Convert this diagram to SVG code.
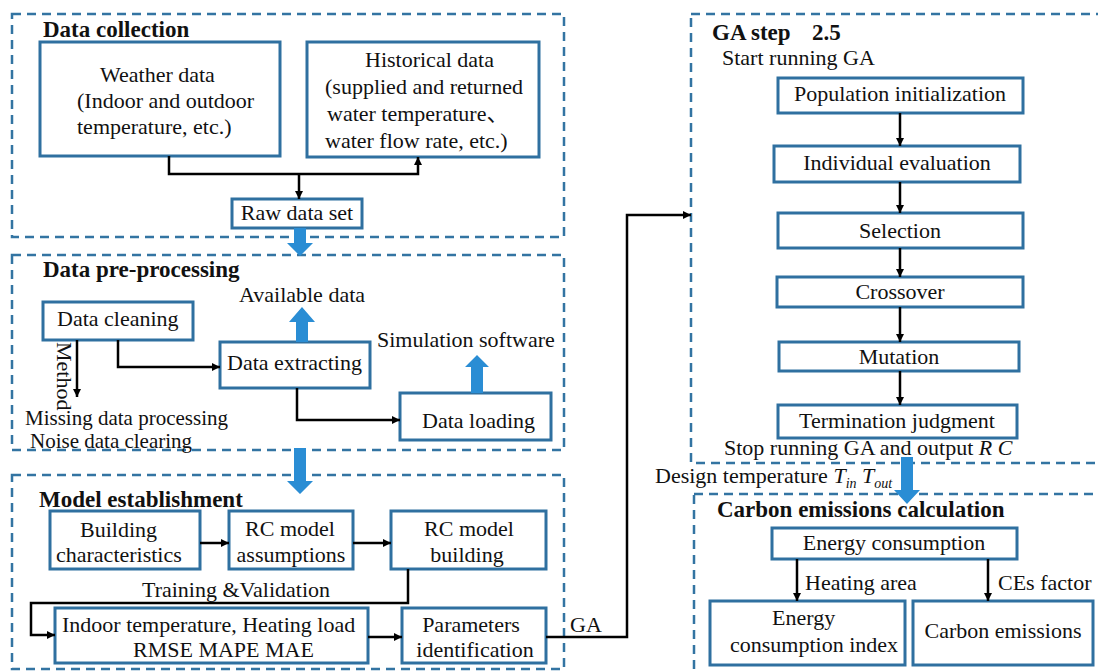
<svg xmlns="http://www.w3.org/2000/svg" width="1098" height="671" viewBox="0 0 1098 671">
  <style>
    .zone { fill: none; stroke: #3374a2; stroke-width: 2.5; stroke-dasharray: 9 6; }
    .box { fill: #fff; stroke: #2f70a0; stroke-width: 3; }
    .t { font-family: 'Liberation Serif', 'Times New Roman', Times, serif; font-size: 22px; fill: #111; }
    .cjk { font-family: 'Liberation Serif', 'Noto Sans CJK SC', serif; }
    .h { font-weight: bold; font-size: 23px; }
    .s { font-size: 21px; }
    .c { text-anchor: middle; }
    .i { font-style: italic; }
    .wire { fill: none; stroke: #000; stroke-width: 2.5; marker-end: url(#ah); }
    .flow { fill: #2a8dd4; }
  </style>
  <defs>
    <marker id="ah" viewBox="0 0 10 10" markerUnits="userSpaceOnUse" markerWidth="9" markerHeight="8" refX="10" refY="5" orient="auto">
      <path d="M0,0 L10,5 L0,10 z" fill="#000"/>
    </marker>
  </defs>
  <rect width="1098" height="671" fill="#fff"/>

  <!-- stage frames -->
  <g id="frames">
    <rect class="zone" x="12" y="14" width="552" height="223"/>
    <rect class="zone" x="12" y="255" width="552" height="195"/>
    <rect class="zone" x="12" y="475" width="552" height="194"/>
    <rect class="zone" x="691" y="14" width="420" height="449"/>
    <rect class="zone" x="694" y="494" width="420" height="200"/>
  </g>

  <!-- stage titles -->
  <g id="titles" class="t h">
    <text x="43" y="37">Data collection</text>
    <text x="43" y="277">Data pre-processing</text>
    <text x="39" y="507">Model establishment</text>
    <text x="712" y="40">GA step<tspan x="812">2.5</tspan></text>
    <text x="717" y="517">Carbon emissions calculation</text>
  </g>

  <!-- Data collection -->
  <g id="weather">
    <rect class="box" x="40" y="42" width="240" height="114"/>
    <text class="t" x="100" y="82">Weather data</text>
    <text class="t" x="77" y="108">(Indoor and outdoor</text>
    <text class="t" x="77" y="134">temperature, etc.)</text>
  </g>
  <g id="historical">
    <rect class="box" x="307" y="42" width="232" height="115"/>
    <text class="t" x="365" y="67">Historical data</text>
    <text class="t" x="325" y="94">(supplied and returned</text>
    <text class="t" x="327" y="121">water temperature<tspan class="cjk">、</tspan></text>
    <text class="t" x="325" y="148">water flow rate, etc.)</text>
  </g>
  <g id="raw">
    <rect class="box" x="232" y="199" width="130" height="29"/>
    <text class="t c" x="297" y="220">Raw data set</text>
  </g>

  <!-- Data pre-processing -->
  <g id="cleaning">
    <rect class="box" x="43" y="302" width="150" height="38"/>
    <text class="t" x="57" y="326">Data cleaning</text>
  </g>
  <g id="extracting">
    <rect class="box" x="220" y="342" width="150" height="46"/>
    <text class="t" x="227" y="370">Data extracting</text>
  </g>
  <g id="loading">
    <rect class="box" x="400" y="393" width="151" height="47"/>
    <text class="t" x="422" y="428">Data loading</text>
  </g>
  <g id="preprocess-labels" class="t">
    <text x="239" y="302">Available data</text>
    <text x="377" y="347">Simulation software</text>
    <text transform="translate(57,342) rotate(90)">Method</text>
    <text class="s" x="25" y="424.5">Missing data processing</text>
    <text class="s" x="30" y="448">Noise data clearing</text>
  </g>

  <!-- Model establishment -->
  <g id="building-char">
    <rect class="box" x="50" y="511" width="150" height="58"/>
    <text class="t" x="80" y="537">Building</text>
    <text class="t" x="56" y="562">characteristics</text>
  </g>
  <g id="rc-assumptions">
    <rect class="box" x="229" y="511" width="124" height="58"/>
    <text class="t c" x="290" y="536">RC model</text>
    <text class="t c" x="291" y="562">assumptions</text>
  </g>
  <g id="rc-building">
    <rect class="box" x="391" y="511" width="155" height="58"/>
    <text class="t c" x="469" y="536">RC model</text>
    <text class="t c" x="467" y="562">building</text>
  </g>
  <g id="indicators">
    <rect class="box" x="55" y="608" width="313" height="55"/>
    <text class="t" x="62" y="632">Indoor temperature, Heating load</text>
    <text class="t" x="133" y="657">RMSE MAPE MAE</text>
  </g>
  <g id="parameters">
    <rect class="box" x="402" y="608" width="144" height="55"/>
    <text class="t c" x="471" y="632">Parameters</text>
    <text class="t c" x="475" y="657">identification</text>
  </g>
  <g id="model-labels" class="t">
    <text x="142" y="597">Training &amp;Validation</text>
    <text x="570" y="632">GA</text>
  </g>

  <!-- GA steps -->
  <g id="ga-labels" class="t">
    <text x="722" y="65">Start running GA</text>
    <text x="724" y="455">Stop running GA and output <tspan class="i">R</tspan> <tspan class="i">C</tspan></text>
    <text x="655" y="483">Design temperature <tspan class="i">T</tspan><tspan class="i" font-size="14" dy="5">in</tspan><tspan class="i" dy="-5"> T</tspan><tspan class="i" font-size="14" dy="5">out</tspan></text>
  </g>
  <g id="population">
    <rect class="box" x="778" y="78" width="245" height="35"/>
    <text class="t c" x="900" y="101">Population initialization</text>
  </g>
  <g id="evaluation">
    <rect class="box" x="774" y="146" width="246" height="36"/>
    <text class="t c" x="897" y="170">Individual evaluation</text>
  </g>
  <g id="selection">
    <rect class="box" x="778" y="213" width="245" height="35"/>
    <text class="t c" x="900" y="238">Selection</text>
  </g>
  <g id="crossover">
    <rect class="box" x="777" y="277" width="246" height="30"/>
    <text class="t c" x="900" y="299">Crossover</text>
  </g>
  <g id="mutation">
    <rect class="box" x="779" y="342" width="240" height="29"/>
    <text class="t c" x="899" y="364">Mutation</text>
  </g>
  <g id="termination">
    <rect class="box" x="778" y="405" width="239" height="33"/>
    <text class="t c" x="897" y="428">Termination judgment</text>
  </g>

  <!-- Carbon emissions -->
  <g id="energy">
    <rect class="box" x="772" y="528" width="245" height="31"/>
    <text class="t c" x="894" y="550">Energy consumption</text>
  </g>
  <g id="energy-index">
    <rect class="box" x="710" y="601" width="195" height="64"/>
    <text class="t" x="772" y="625">Energy</text>
    <text class="t" x="730" y="652">consumption index</text>
  </g>
  <g id="carbon">
    <rect class="box" x="913" y="601" width="180" height="64"/>
    <text class="t c" x="1003" y="638">Carbon emissions</text>
  </g>
  <g id="carbon-labels" class="t">
    <text x="805" y="590">Heating area</text>
    <text x="998" y="590">CEs factor</text>
  </g>

  <!-- connectors -->
  <g id="connectors">
    <path class="wire" d="M169,156 V174 H418 V157" marker-end="none"/>
    <path class="wire" d="M299,174 V199"/>
    <path class="wire" d="M77,340 V397"/>
    <path class="wire" d="M118,340 V367 H220"/>
    <path class="wire" d="M297,388 V420 H400"/>
    <path class="wire" d="M200,543 H229"/>
    <path class="wire" d="M353,543 H391"/>
    <path class="wire" d="M408,569 V603 H31 V635 H55"/>
    <path class="wire" d="M368,637 H402"/>
    <path class="wire" d="M546,637 H627 V215 H691"/>
    <path class="wire" d="M900,113 V146"/>
    <path class="wire" d="M900,182 V213"/>
    <path class="wire" d="M900,248 V277"/>
    <path class="wire" d="M900,307 V342"/>
    <path class="wire" d="M900,371 V405"/>
    <path class="wire" d="M797,559 V601"/>
    <path class="wire" d="M988,559 V601"/>
    <!-- broad flow arrows -->
    <path class="flow" d="M294,228 H306 V243 H313 L300,256 L287,243 H294 Z"/>
    <path class="flow" d="M294,448 H306 V481 H313 L300,494 L287,481 H294 Z"/>
    <path class="flow" d="M296,342 H308 V322 H315 L302,307 L289,322 H296 Z"/>
    <path class="flow" d="M471,393 H483 V367 H489 L477,355 L465,367 H471 Z"/>
    <path class="flow" d="M901,457 H913 V490 H920 L907,504 L894,490 H901 Z"/>
  </g>
</svg>
